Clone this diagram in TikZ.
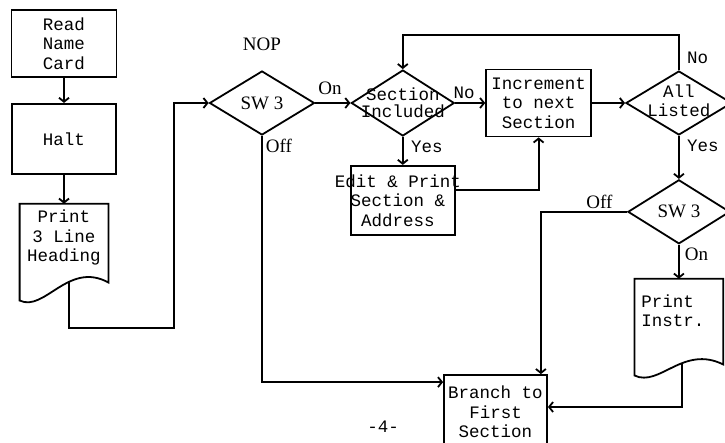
\documentclass[tikz,border=0pt]{standalone}
\usepackage{fontspec}
\setmainfont{Liberation Serif}
\setmonofont{Liberation Mono}
\usepackage{tikz}
\usetikzlibrary{shapes.geometric, arrows.meta, positioning, calc}
\newcommand{\tty}{\ttfamily\fontsize{17.5}{19.5}\selectfont}
\newcommand{\ttytight}{\ttfamily\fontsize{17.5}{16.5}\selectfont}
\newcommand{\lblfont}{\rmfamily\fontsize{19}{21}\selectfont}
\begin{document}
\begin{tikzpicture}[
    x=1pt, y=1pt,
    line width=1.8pt,
    every node/.style={font=\tty},
    box/.style={rectangle, draw, line width=1.8pt, align=center, inner sep=2pt},
    doc/.style={rectangle, align=center, inner sep=2pt},
    decision/.style={diamond, draw, line width=1.8pt, inner sep=0pt},
    lbl/.style={font=\lblfont, inner sep=2pt},
    arrow/.style={-{Straight Barb[length=4pt,width=10pt]}, line width=1.8pt}
]
\useasboundingbox (0,0) rectangle (725,-442);

% --- Left column ---
\node[box, minimum width=105pt, minimum height=67pt] (card) at (64,-43.5) {Read\\Name\\Card};
\node[box, minimum width=104pt, minimum height=70pt, below=25pt of card] (halt) {Halt};
\node[doc, minimum width=87pt, minimum height=66pt, below=29pt of halt] (head) {Print\\3 Line\\Heading};

% --- Switch and section loop ---
\node[decision, minimum width=105pt, minimum height=64pt] (sw1) at (262,-103) {};
\node[lbl] (sw1txt) at (sw1) {SW 3};
\node[lbl, above=17pt of sw1] (nop) {NOP};
\node[decision, minimum width=103pt, minimum height=66pt, right=35pt of sw1] (sec) {};
\node[font=\ttytight, align=center] (sectxt) at (sec) {Section\\Included};
\node[box, minimum width=105pt, minimum height=67pt, right=30pt of sec] (inc) {Increment\\to next\\Section};
\node[box, minimum width=104pt, minimum height=69pt, below=28pt of sec] (edit) {};
\node[align=center] (edittxt) at ([xshift=-5pt]edit.center) {Edit \& Print\\Section \&\\Address};
\node[decision, minimum width=106pt, minimum height=64pt, right=33pt of inc] (all) {};
\node[align=center] (alltxt) at ([yshift=2pt]all.center) {All\\Listed};

% --- Right column ---
\node[decision, minimum width=102pt, minimum height=64pt, below=43pt of all] (sw2) {};
\node[lbl] (sw2txt) at (sw2) {SW 3};
\node[doc, minimum width=87pt, minimum height=62pt, text width=75pt, align=left, below=34pt of sw2] (instr) {Print\\Instr.};
\node[box, minimum width=103pt, minimum height=74pt] (branch) at (495.5,-412) {Branch to\\First\\Section};
\node (page) at (383,-427) {-4-};

% --- Document outlines ---
\draw (head.north west) -- (head.north east) -- ([yshift=-11pt]head.south east)
  .. controls +(-40,22) and +(25,-12) .. coordinate[pos=0.38] (hout) ([yshift=-29pt]head.south west) -- cycle;
\draw (instr.north west) -- (instr.north east) -- ([yshift=-22pt]instr.south east)
  .. controls +(-40,20) and +(25,-12) .. coordinate[pos=0.4] (iout) ([yshift=-33pt]instr.south west) -- cycle;

% --- Connections ---
\draw[arrow] (card) -- (halt);
\draw[arrow] (halt) -- (head);
\draw[arrow] (hout) -- ++(0,-46) -| ([xshift=-35pt]sw1.west) -- (sw1.west);
\draw[arrow] (sw1) -- node[lbl, above, yshift=5pt, xshift=-3pt] {On} (sec);
\draw[arrow] (sw1.south) |- node[lbl, pos=0, anchor=north west, xshift=1pt] {Off} ([yshift=-8pt]branch.north west);
\draw[arrow] (sec) -- node[above, pos=0.3] {No} (inc);
\draw[arrow] (sec) -- node[pos=0, anchor=north west, xshift=4pt] {Yes} (edit);
\draw[arrow] ([yshift=10pt]edit.east) -| (inc.south);
\draw[arrow] (inc) -- (all);
\draw[arrow] (all.north) -- node[right, pos=0.35, xshift=4pt] {No} ++(0,35) -| (sec.north);
\draw[arrow] (all) -- node[pos=0, anchor=north west, xshift=4pt] {Yes} (sw2);
\draw[arrow] (sw2.west) -| node[lbl, above, pos=0.16] {Off} ([xshift=-7pt]branch.north east);
\draw[arrow] (sw2) -- node[lbl, pos=0, anchor=north west, xshift=3pt] {On} (instr);
\draw[arrow] (iout) |- ([yshift=5pt]branch.east);

\end{tikzpicture}
\end{document}
